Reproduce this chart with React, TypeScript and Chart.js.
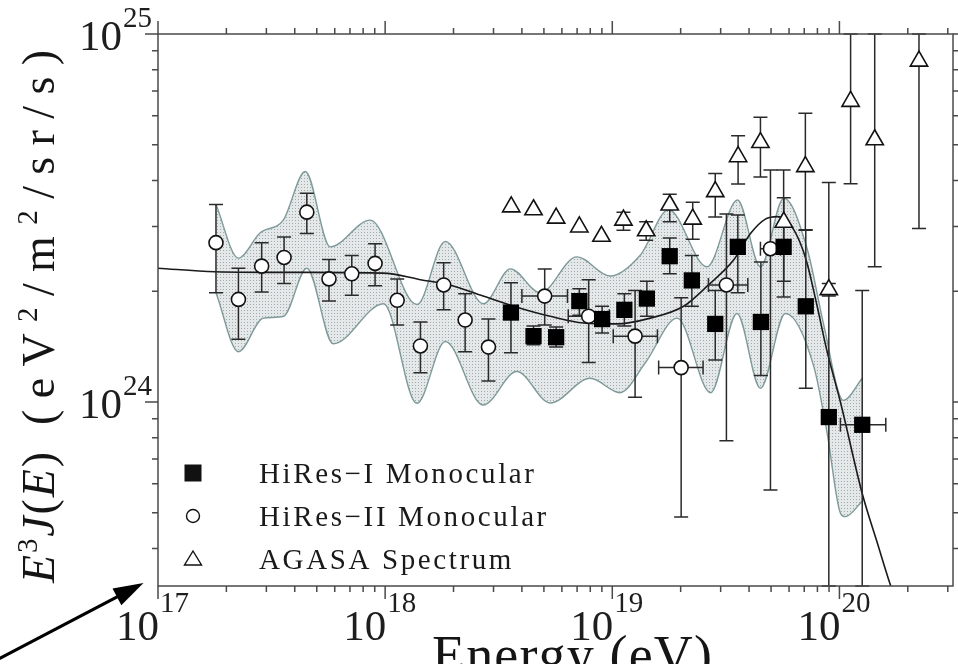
import React, { useEffect, useRef } from 'react';
import { Chart, registerables } from 'chart.js';

Chart.register(...registerables);

// ---- axis ranges ----
const X_MIN = 1e17;
const X_MAX = 3.1623e20;
const Y_MIN = 3.1623e23;
const Y_MAX = 1e25;

const xMajorExponents = [17, 18, 19, 20];
const yMajorExponents = [24, 25];

const seriesLabels = ['HiRes\u2212I Monocular', 'HiRes\u2212II Monocular', 'AGASA Spectrum'];

// ---- HiRes-I monocular ----
const hires1Energy = [3.58e18, 4.5e18, 5.66e18, 7.16e18, 9.02e18, 1.13e19, 1.42e19, 1.79e19, 2.24e19, 2.84e19, 3.57e19, 4.51e19, 5.68e19, 7.11e19, 8.98e19, 1.26e20];
const hires1Flux = [1.75e24, 1.51e24, 1.5e24, 1.88e24, 1.68e24, 1.78e24, 1.91e24, 2.49e24, 2.14e24, 1.63e24, 2.64e24, 1.65e24, 2.64e24, 1.82e24, 9.1e23, 8.67e23];
const hires1Low = [1.36e24, 1.43e24, 1.41e24, 1.72e24, 1.54e24, 1.61e24, 1.71e24, 2.23e24, 1.82e24, 1.3e24, 1.98e24, 1.18e24, 1.93e24, 1.09e24, 1e23, 1e23];
const hires1High = [2.11e24, 1.61e24, 1.6e24, 2.03e24, 1.82e24, 1.97e24, 2.13e24, 2.79e24, 2.5e24, 2.01e24, 3.22e24, 2.4e24, 4.27e24, 2.94e24, 3.95e24, 2.01e24];
const hires1ELow = [null, null, null, null, null, null, null, null, null, null, null, null, null, null, null, 1.01e20];
const hires1EHigh = [null, null, null, null, null, null, null, null, null, null, null, null, null, null, null, 1.6e20];

// ---- HiRes-II monocular ----
const hires2Energy = [1.8e17, 2.26e17, 2.86e17, 3.59e17, 4.52e17, 5.66e17, 7.13e17, 9.03e17, 1.13e18, 1.43e18, 1.81e18, 2.25e18, 2.85e18, 5.04e18, 7.87e18, 1.26e19, 2.01e19, 3.18e19, 4.97e19];
const hires2Flux = [2.71e24, 1.9e24, 2.34e24, 2.47e24, 3.28e24, 2.16e24, 2.23e24, 2.38e24, 1.89e24, 1.42e24, 2.08e24, 1.67e24, 1.41e24, 1.94e24, 1.71e24, 1.51e24, 1.24e24, 2.08e24, 2.61e24];
const hires2Low = [1.98e24, 1.48e24, 1.99e24, 2.1e24, 2.87e24, 1.88e24, 1.95e24, 2.07e24, 1.62e24, 1.2e24, 1.78e24, 1.37e24, 1.14e24, 1.62e24, 1.28e24, 1.03e24, 4.87e23, 7.85e23, 5.77e23];
const hires2High = [3.44e24, 2.31e24, 2.71e24, 2.81e24, 3.69e24, 2.44e24, 2.5e24, 2.69e24, 2.16e24, 1.65e24, 2.39e24, 1.97e24, 1.68e24, 2.3e24, 2.15e24, 2.01e24, 1.92e24, 3.24e24, 4.27e24];
const hires2ELow = [null, null, null, null, null, null, null, null, null, null, null, null, null, 4.0e18, 6.4e18, 1.01e19, 1.6e19, 2.65e19, 4.49e19];
const hires2EHigh = [null, null, null, null, null, null, null, null, null, null, null, null, null, 6.35e18, 9.7e18, 1.58e19, 2.51e19, 3.95e19, 5.5e19];

// ---- AGASA spectrum ----
const agasaEnergy = [3.59e18, 4.5e18, 5.66e18, 7.16e18, 8.96e18, 1.12e19, 1.41e19, 1.79e19, 2.26e19, 2.84e19, 3.58e19, 4.49e19, 5.69e19, 7.08e19, 8.98e19, 1.12e20, 1.43e20, 2.24e20];
const agasaFlux = [3.39e24, 3.33e24, 3.16e24, 2.99e24, 2.82e24, 3.12e24, 2.92e24, 3.43e24, 3.14e24, 3.73e24, 4.64e24, 5.07e24, 3.08e24, 4.36e24, 2.02e24, 6.56e24, 5.16e24, 8.44e24];
const agasaLow = [null, null, null, null, null, 2.93e24, 2.75e24, 3.09e24, 2.77e24, 3.18e24, 3.91e24, 4.09e24, 2.13e24, 2.93e24, 1.94e24, 3.92e24, 2.33e24, 2.96e24];
const agasaHigh = [null, null, null, null, null, 3.28e24, 3.09e24, 3.67e24, 3.49e24, 4.18e24, 5.29e24, 5.94e24, 3.59e24, 6.09e24, 2.1e24, 2e25, 2e25, 2e25];

// ---- fitted curve ----
const fitEnergy = [1e17, 1.78e17, 4.23e17, 9.8e17, 1.43e18, 1.93e18, 2.7e18, 3.8e18, 5.33e18, 7.48e18, 1.05e19, 1.47e19, 2.06e19, 2.65e19, 3.42e19, 4.06e19, 4.72e19, 5.33e19, 6.08e19, 6.73e19, 7.21e19, 7.98e19, 8.83e19, 1.01e20, 1.26e20, 1.47e20, 1.68e20, 1.77e20];
const fitFlux = [2.31e24, 2.26e24, 2.25e24, 2.24e24, 2.15e24, 2.08e24, 1.94e24, 1.81e24, 1.71e24, 1.64e24, 1.63e24, 1.69e24, 1.82e24, 2.08e24, 2.43e24, 2.87e24, 3.14e24, 3.19e24, 3.03e24, 2.7e24, 2.38e24, 1.82e24, 1.37e24, 1.0e24, 5.64e23, 4.13e23, 3.17e23, 2.9e23];

// ---- shaded band ----
const bandUpperEnergy = [1.8e17, 2.26e17, 2.81e17, 3.56e17, 4.45e17, 5.73e17, 8.59e17, 1.38e18, 1.84e18, 2.71e18, 3.56e18, 4.82e18, 6.98e18, 9.79e18, 1.33e19, 1.77e19, 2.61e19, 3.56e19, 4.49e19, 5.69e19, 7.21e19, 8.53e19, 1.04e20, 1.26e20];
const bandUpperFlux = [3.44e24, 2.46e24, 2.88e24, 3.12e24, 4.23e24, 2.64e24, 3.12e24, 1.84e24, 2.73e24, 1.85e24, 2.3e24, 1.98e24, 2.48e24, 2.2e24, 2.51e24, 3.33e24, 2.33e24, 3.54e24, 2.33e24, 3.58e24, 2.61e24, 1.62e24, 1.01e24, 1.16e24];
const bandLowerEnergy = [1.8e17, 2.26e17, 2.91e17, 3.57e17, 4.52e17, 5.91e17, 9.84e17, 1.38e18, 1.84e18, 2.7e18, 3.8e18, 5.33e18, 8.0e18, 1.08e19, 1.4e19, 1.93e19, 2.71e19, 3.54e19, 4.49e19, 5.78e19, 7.71e19, 8.83e19, 1.01e20, 1.06e20, 1.26e20];
const bandLowerFlux = [1.98e24, 1.37e24, 1.69e24, 1.71e24, 2.31e24, 1.44e24, 1.85e24, 9.92e23, 1.46e24, 9.81e23, 1.21e24, 9.94e23, 1.16e24, 1.06e24, 1.28e24, 1.69e24, 1.06e24, 1.74e24, 1.09e24, 1.74e24, 1.25e24, 8.22e23, 4.99e23, 4.88e23, 5.37e23];

const SERIF = '"Liberation Serif", "Times New Roman", serif';

const pts = (xs: number[], ys: number[]) => xs.map((x, i) => ({ x, y: ys[i] }));

type Seg = { text: string; font: string; rise?: number };
function drawSpaced(ctx: CanvasRenderingContext2D, segs: Seg[], x: number, y: number, opts: { width?: number; gap?: number }) {
  const chars: { ch: string; w: number; font: string; rise: number }[] = [];
  let natural = 0;
  for (const s of segs) {
    ctx.font = s.font;
    for (const ch of Array.from(s.text)) {
      const w = ctx.measureText(ch).width;
      chars.push({ ch, w, font: s.font, rise: s.rise || 0 });
      natural += w;
    }
  }
  let gap = opts.gap ?? 0;
  if (opts.width != null && chars.length > 1) gap = (opts.width - natural) / (chars.length - 1);
  let cx = x;
  for (const c of chars) {
    ctx.font = c.font;
    ctx.fillText(c.ch, cx, y - c.rise);
    cx += c.w + gap;
  }
  return gap;
}

function measureNatural(ctx: CanvasRenderingContext2D, text: string, font: string) {
  ctx.font = font;
  let w = 0;
  for (const ch of Array.from(text)) w += ctx.measureText(ch).width;
  return w;
}

function drawErrorBars(chart: any) {
  const ctx: CanvasRenderingContext2D = chart.ctx;
  const xs = chart.scales.x;
  const ys = chart.scales.y;
  const { left, right, top, bottom } = chart.chartArea;
  const clampY = (v: number) => Math.max(top, Math.min(bottom, v));
  const clampX = (v: number) => Math.max(left, Math.min(right, v));
  ctx.save();
  ctx.beginPath();
  ctx.rect(left - 1, top - 1, right - left + 2, bottom - top + 2);
  ctx.clip();
  ctx.strokeStyle = '#2a2a2a';
  ctx.lineWidth = 1.5;
  const cap = 7;
  const groups: any[][] = [
    [agasaEnergy, agasaFlux, agasaLow, agasaHigh, null, null],
    [hires2Energy, hires2Flux, hires2Low, hires2High, hires2ELow, hires2EHigh],
    [hires1Energy, hires1Flux, hires1Low, hires1High, hires1ELow, hires1EHigh],
  ];
  for (const [E, F, lo, hi, elo, ehi] of groups) {
    for (let i = 0; i < E.length; i++) {
      const px = xs.getPixelForValue(E[i]);
      const py = ys.getPixelForValue(F[i]);
      ctx.beginPath();
      if (lo && lo[i] != null && hi[i] != null) {
        const y1 = clampY(ys.getPixelForValue(hi[i]));
        const y2 = clampY(ys.getPixelForValue(lo[i]));
        ctx.moveTo(px, y1); ctx.lineTo(px, y2);
        ctx.moveTo(px - cap, y1); ctx.lineTo(px + cap, y1);
        ctx.moveTo(px - cap, y2); ctx.lineTo(px + cap, y2);
      }
      if (elo && elo[i] != null && ehi[i] != null) {
        const x1 = clampX(xs.getPixelForValue(elo[i]));
        const x2 = clampX(xs.getPixelForValue(ehi[i]));
        ctx.moveTo(x1, py); ctx.lineTo(x2, py);
        ctx.moveTo(x1, py - cap); ctx.lineTo(x1, py + cap);
        ctx.moveTo(x2, py - cap); ctx.lineTo(x2, py + cap);
      }
      ctx.stroke();
    }
  }
  ctx.restore();
}

function drawFrame(chart: any) {
  const ctx: CanvasRenderingContext2D = chart.ctx;
  const xs = chart.scales.x;
  const ys = chart.scales.y;
  const { left, right, top, bottom } = chart.chartArea;
  ctx.save();
  ctx.strokeStyle = '#4a4a4a';
  ctx.lineWidth = 1.5;
  ctx.strokeRect(left, top, right - left, bottom - top);
  ctx.beginPath();
  for (let e = 17; e <= 20; e++) {
    for (let m = 1; m <= 9; m++) {
      const v = m * Math.pow(10, e);
      if (v < X_MIN * 0.999 || v > X_MAX) continue;
      const px = xs.getPixelForValue(v);
      const len = m === 1 ? 13 : 6;
      ctx.moveTo(px, bottom); ctx.lineTo(px, bottom + len);
      ctx.moveTo(px, top); ctx.lineTo(px, top - len);
    }
  }
  for (let e = 23; e <= 25; e++) {
    for (let m = 1; m <= 9; m++) {
      const v = m * Math.pow(10, e);
      if (v < Y_MIN || v > Y_MAX * 1.001) continue;
      const py = ys.getPixelForValue(v);
      const len = m === 1 ? 13 : 6;
      ctx.moveTo(left, py); ctx.lineTo(left - len, py);
      ctx.moveTo(right, py); ctx.lineTo(right + len, py);
    }
  }
  ctx.stroke();

  // tick labels
  ctx.fillStyle = '#1e1e1e';
  ctx.textBaseline = 'alphabetic';
  const mainFont = `43px ${SERIF}`;
  const supFont = `29px ${SERIF}`;
  for (const e of xMajorExponents) {
    const px = xs.getPixelForValue(Math.pow(10, e));
    ctx.font = mainFont;
    ctx.textAlign = 'right';
    ctx.fillText('10', px + 1, bottom + 54);
    ctx.font = supFont;
    ctx.textAlign = 'left';
    ctx.fillText(String(e), px + 2, bottom + 26);
  }
  for (const e of yMajorExponents) {
    const py = ys.getPixelForValue(Math.pow(10, e));
    ctx.font = mainFont;
    ctx.textAlign = 'right';
    ctx.fillText('10', left - 36, py + 16);
    ctx.font = supFont;
    ctx.textAlign = 'left';
    ctx.fillText(String(e), left - 35, py - 7);
  }
  ctx.restore();
}

function drawLegend(chart: any) {
  const ctx: CanvasRenderingContext2D = chart.ctx;
  const { left, bottom } = chart.chartArea;
  const mx = left + 35;
  const tx = left + 101;
  const rows = [bottom - 113, bottom - 70, bottom - 27];
  ctx.save();
  ctx.fillStyle = '#111';
  ctx.strokeStyle = '#111';
  ctx.lineWidth = 1.4;
  ctx.fillRect(mx - 8.5, rows[0] - 8.5, 17, 17);
  ctx.beginPath();
  ctx.arc(mx, rows[1], 6.5, 0, Math.PI * 2);
  ctx.stroke();
  ctx.beginPath();
  ctx.moveTo(mx, rows[2] - 8);
  ctx.lineTo(mx + 8.5, rows[2] + 6);
  ctx.lineTo(mx - 8.5, rows[2] + 6);
  ctx.closePath();
  ctx.stroke();
  ctx.fillStyle = '#1a1a1a';
  ctx.textAlign = 'left';
  const font = `29px ${SERIF}`;
  const labels = chart.data.datasets.slice(0, 3).map((d: any) => d.label);
  const nat = measureNatural(ctx, labels[0], font);
  const gap = Math.max(0, (275 - nat) / (Array.from(labels[0] as string).length - 1));
  labels.forEach((lab: string, i: number) => {
    drawSpaced(ctx, [{ text: lab, font }], tx, rows[i] + 10, { gap });
  });
  ctx.restore();
}

function drawTitles(chart: any) {
  const ctx: CanvasRenderingContext2D = chart.ctx;
  ctx.save();
  ctx.fillStyle = '#151515';
  ctx.textAlign = 'left';
  ctx.textBaseline = 'alphabetic';
  const big = `46px ${SERIF}`;
  const it = `italic 46px ${SERIF}`;
  const sup = `29px ${SERIF}`;
  ctx.translate(54, 583);
  ctx.rotate(-Math.PI / 2);
  drawSpaced(ctx, [
    { text: 'E', font: it },
    { text: '3', font: sup, rise: 17 },
    { text: 'J', font: it },
    { text: '(', font: big },
    { text: 'E', font: it },
    { text: ')', font: big },
  ], 0, 0, { width: 131 });
  drawSpaced(ctx, [
    { text: '(eV', font: big },
    { text: '2', font: sup, rise: 17 },
    { text: '/m', font: big },
    { text: '2', font: sup, rise: 17 },
    { text: '/sr/s)', font: big },
  ], 158, 0, { width: 375 });
  ctx.restore();

  ctx.save();
  ctx.fillStyle = '#151515';
  ctx.textAlign = 'left';
  drawSpaced(ctx, [{ text: 'Energy (eV)', font: `54px ${SERIF}` }], 432, 673, { width: 280 });
  ctx.restore();
}

function drawArrow(chart: any) {
  const ctx: CanvasRenderingContext2D = chart.ctx;
  const tail = { x: -10, y: 663.5 };
  const tip = { x: 143.5, y: 583 };
  const dx = tip.x - tail.x;
  const dy = tip.y - tail.y;
  const L = Math.hypot(dx, dy);
  const ux = dx / L, uy = dy / L;
  const nx = -uy, ny = ux;
  const hl = 30, hw = 9.5;
  const bx = tip.x - ux * hl, by = tip.y - uy * hl;
  ctx.save();
  ctx.strokeStyle = '#000';
  ctx.fillStyle = '#000';
  ctx.lineWidth = 3.2;
  ctx.beginPath();
  ctx.moveTo(tail.x, tail.y);
  ctx.lineTo(bx + ux * 4, by + uy * 4);
  ctx.stroke();
  ctx.beginPath();
  ctx.moveTo(tip.x, tip.y);
  ctx.lineTo(bx + nx * hw, by + ny * hw);
  ctx.lineTo(bx - nx * hw, by - ny * hw);
  ctx.closePath();
  ctx.fill();
  ctx.restore();
}

const decorPlugin = {
  id: 'decor',
  beforeDatasetDraw(chart: any, args: any) {
    if (args.index === 2) drawErrorBars(chart);
  },
  afterDraw(chart: any) {
    drawFrame(chart);
    drawLegend(chart);
    drawTitles(chart);
    drawArrow(chart);
  },
};

function makeDotPattern(ctx: CanvasRenderingContext2D) {
  const c = document.createElement('canvas');
  c.width = 3;
  c.height = 3;
  const g = c.getContext('2d')!;
  g.fillStyle = '#e4e8e8';
  g.fillRect(0, 0, 3, 3);
  g.fillStyle = '#a2abab';
  g.fillRect(1, 1, 1, 1);
  return ctx.createPattern(c, 'repeat');
}

export default function App() {
  const ref = useRef<HTMLCanvasElement>(null);
  useEffect(() => {
    const canvas = ref.current!;
    const ctx = canvas.getContext('2d')!;
    const pattern = makeDotPattern(ctx);
    const chart = new Chart(ctx, {
      type: 'scatter',
      data: {
        datasets: [
          {
            label: seriesLabels[0],
            data: pts(hires1Energy, hires1Flux),
            showLine: false,
            pointStyle: 'rect',
            pointRadius: 11.5,
            pointHoverRadius: 11.5,
            pointBackgroundColor: '#000',
            pointBorderColor: '#000',
            pointBorderWidth: 0,
          },
          {
            label: seriesLabels[1],
            data: pts(hires2Energy, hires2Flux),
            showLine: false,
            pointStyle: 'circle',
            pointRadius: 7,
            pointHoverRadius: 7,
            pointBackgroundColor: '#fff',
            pointBorderColor: '#111',
            pointBorderWidth: 1.6,
          },
          {
            label: seriesLabels[2],
            data: pts(agasaEnergy, agasaFlux),
            showLine: false,
            pointStyle: 'triangle',
            pointRadius: 10,
            pointHoverRadius: 10,
            pointBackgroundColor: '#fff',
            pointBorderColor: '#111',
            pointBorderWidth: 1.6,
          },
          {
            label: 'fit',
            data: pts(fitEnergy, fitFlux),
            showLine: true,
            pointRadius: 0,
            borderColor: '#1a1a1a',
            borderWidth: 1.6,
            cubicInterpolationMode: 'monotone',
            fill: false,
          },
          {
            label: 'band upper',
            data: pts(bandUpperEnergy, bandUpperFlux),
            showLine: true,
            pointRadius: 0,
            borderColor: '#7f9a9a',
            borderWidth: 1.4,
            cubicInterpolationMode: 'monotone',
            backgroundColor: pattern as any,
            fill: '+1',
          },
          {
            label: 'band lower',
            data: pts(bandLowerEnergy, bandLowerFlux),
            showLine: true,
            pointRadius: 0,
            borderColor: '#7f9a9a',
            borderWidth: 1.4,
            cubicInterpolationMode: 'monotone',
            fill: false,
          },
        ],
      },
      options: {
        animation: false,
        responsive: false,
        devicePixelRatio: 1,
        events: [],
        layout: { autoPadding: false, padding: { left: 158, top: 34, right: 5, bottom: 78 } },
        scales: {
          x: { type: 'logarithmic', min: X_MIN, max: X_MAX, display: false },
          y: { type: 'logarithmic', min: Y_MIN, max: Y_MAX, display: false },
        },
        plugins: {
          legend: { display: false },
          tooltip: { enabled: false },
          filler: { drawTime: 'beforeDatasetsDraw' },
        } as any,
      },
      plugins: [decorPlugin],
    } as any);
    return () => chart.destroy();
  }, []);
  return (
    <div style={{ position: 'absolute', left: 0, top: 0, width: 958, height: 664, background: '#fff' }}>
      <canvas ref={ref} width={958} height={664} style={{ display: 'block', width: 958, height: 664 }} />
    </div>
  );
}
